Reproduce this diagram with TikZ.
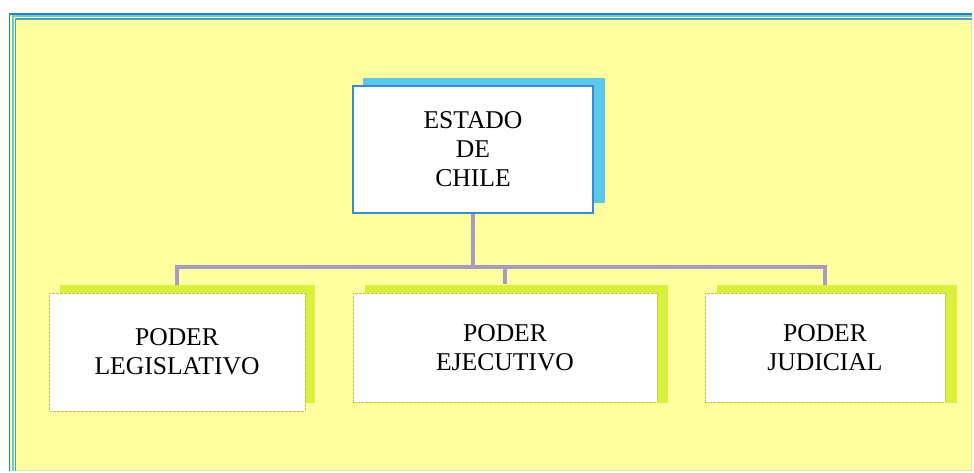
\documentclass[tikz,border=0pt]{standalone}
\usepackage{fontspec}
\setmainfont{Liberation Serif}
\definecolor{bgyellow}{RGB}{255,255,160}
\definecolor{frameblue}{RGB}{40,130,185}
\definecolor{framecyan}{RGB}{100,205,225}
\definecolor{topshadow}{RGB}{90,200,235}
\definecolor{topborder}{RGB}{50,140,215}
\definecolor{lowshadow}{RGB}{215,240,60}
\definecolor{lowborder}{RGB}{190,200,70}
\definecolor{linkcol}{RGB}{165,155,190}
\tikzset{
  boxtext/.style={font=\fontsize{25.6}{29}\selectfont, align=center, text=black},
  topbox/.style={boxtext, fill=white, draw=topborder, line width=1.5pt, inner sep=0pt},
  topshad/.style={fill=topshadow, draw=none, inner sep=0pt},
  lowbox/.style={boxtext, fill=white, draw=lowborder, line width=1pt, dash pattern=on 3pt off 1pt, inner sep=0pt},
  lowshad/.style={fill=lowshadow, draw=none, inner sep=0pt},
  link/.style={draw=linkcol, line width=4pt}
}
\pgfdeclarelayer{conn}
\pgfsetlayers{conn,main}
\begin{document}
\begin{tikzpicture}[x=1pt,y=-1pt]
\useasboundingbox (0,0) rectangle (974,473);
% frame
\begin{pgfonlayer}{conn}
\fill[white] (0,0) rectangle (974,473);
\fill[bgyellow] (9,14) rectangle (972,471);
\draw[frameblue, line width=1.8pt] (9.5,471) -- (9.5,14) -- (972,14);
\draw[framecyan, line width=2pt] (12.5,471) -- (12.5,16.5) -- (972,16.5);
\draw[frameblue!80, line width=1.2pt] (15.5,471) -- (15.5,19) -- (972,19);
\draw[lowborder!50, line width=1pt] (16,470.5) -- (972,470.5);
\draw[bgyellow!70!lowborder, line width=1pt] (971.5,20) -- (971.5,470);
\end{pgfonlayer}
% shadows
\node[topshad, minimum width=242pt, minimum height=125pt] (tsh) at (484,140.5) {};
\node[lowshad, minimum width=255pt, minimum height=118pt] (lsh) at (187.5,344) {};
\node[lowshad, minimum width=303pt, minimum height=118pt] (msh) at (516.5,343.5) {};
\node[lowshad, minimum width=240pt, minimum height=118pt] (rsh) at (837,344) {};
% boxes
\node[topbox, minimum width=240pt, minimum height=127pt] (top) at (473,149.5) {ESTADO\\DE\\CHILE};
\node[lowbox, minimum width=256pt, minimum height=118pt] (lb) at (177,352) {PODER\\LEGISLATIVO};
\node[lowbox, minimum width=304pt, minimum height=109pt] (mb) at (505,347.5) {PODER\\EJECUTIVO};
\node[lowbox, minimum width=240pt, minimum height=109pt] (rb) at (825,347.5) {PODER\\JUDICIAL};
% connectors (behind boxes)
\begin{pgfonlayer}{conn}
\coordinate (bar) at (top.south |- 0,267);
\draw[link] (top.south) -- (bar);
\draw[link] (bar) -| (lb.north |- lsh.north);
\draw[link] (bar) -| (mb.north |- msh.north);
\draw[link] (bar) -| (rb.north |- rsh.north);
\end{pgfonlayer}
\end{tikzpicture}
\end{document}
